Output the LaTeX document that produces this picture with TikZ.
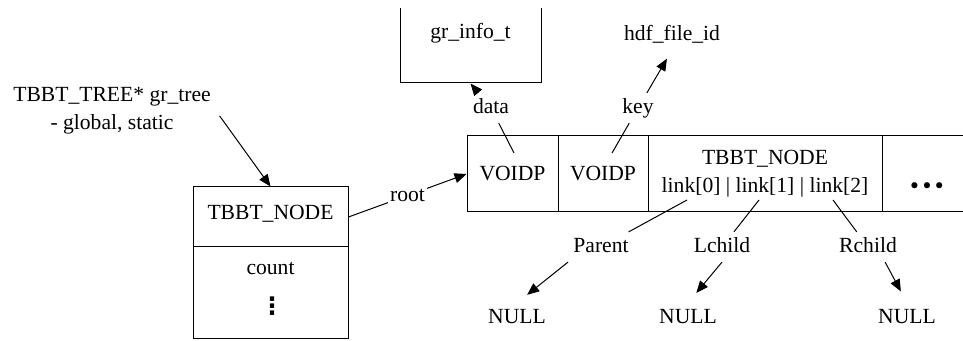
\documentclass[tikz,border=0pt]{standalone}
\usepackage{fontspec}
\setmainfont{Liberation Serif}
\newfontfamily\dejavu{DejaVu Sans}
\usetikzlibrary{arrows.meta,calc}

\begin{document}
\begin{tikzpicture}[x=0.5pt,y=-0.5pt,
  lab/.style={font=\fontsize{10.8}{14}\selectfont,inner sep=2.5pt},
  txt/.style={lab,text height=7.4pt,text depth=2.3pt},
  fld/.style={draw,line width=0.5pt,minimum height=38pt,inner sep=0pt,align=center,font=\fontsize{10.8}{14}\selectfont},
  box/.style={draw,line width=0.5pt,inner sep=0pt,font=\fontsize{10.8}{14}\selectfont},
  arr/.style={-{Triangle[length=6pt,width=5pt]},line width=0.5pt},
  conn/.style={line width=0.5pt}
]
  \useasboundingbox (0,0) rectangle (963,341);
  \clip (0,9) rectangle (963,341);

  \node[box,minimum width=70.5pt,minimum height=50pt] (ginfo) at (470.5,33) {gr\_info\_t};
  \node[txt] (hdf) at (672,35) {hdf\_file\_id};
  \node[lab,align=center] (tree) at (112,111) {TBBT\_TREE* gr\_tree\\- global, static};

  \node[box,minimum width=77.5pt,minimum height=30pt,text height=7.15pt,text depth=5pt] (ltop) at (270.5,217) {TBBT\_NODE};
  \node[box,minimum width=77.5pt,minimum height=46pt] (lbot) at (270.5,293) {};
  \node[txt] (count) at (270.5,269) {count};
  \node[font={\dejavu\bfseries\fontsize{12}{12}\selectfont},inner sep=0pt] (vdots) at (272,306.5) {⋮};

  \node[fld,minimum width=45.5pt] (voidA) at (512.5,174) {VOIDP};
  \node[fld,minimum width=45pt] (voidB) at (603,174) {VOIDP};
  \node[fld,minimum width=117pt] (tnode) at (765,174) {TBBT\_NODE\\link[0] | link[1] | link[2]};
  \node[fld,minimum width=45pt] (more) at (927,174) {};
  \node[font={\dejavu\fontsize{10.5}{12}\selectfont},inner sep=0pt] (dots) at (927,188) {•••};

  \node[txt] (data) at (491,108) {data};
  \node[txt] (key) at (638,108) {key};
  \node[txt] (parent) at (601,247) {Parent};
  \node[txt] (lchild) at (722,247) {Lchild};
  \node[txt] (rchild) at (868,247) {Rchild};
  \node[txt] (null0) at (517,318) {NULL};
  \node[txt] (null1) at (688,318) {NULL};
  \node[txt] (null2) at (907,318) {NULL};

  \coordinate (pA) at (514,153);
  \coordinate (pB) at (612,153);
  \coordinate (p0) at (687,200);
  \coordinate (p1) at (759,200);
  \coordinate (p2) at (833,200);

  \draw[arr,shorten <=3pt] (tree.east) -- (ltop.north);
  \draw[arr] (ltop.east) -- node[lab,fill=white,inner sep=1pt] {root} (voidA.west);

  \draw[conn] (pA) -- (data);
  \draw[arr] (data) -- (ginfo.south);
  \draw[conn] (pB) -- (key);
  \draw[arr,shorten >=5pt] (key) -- (hdf.south);

  \draw[conn] (p0) -- (parent);
  \draw[conn] (p1) -- (lchild);
  \draw[conn] (p2) -- (rchild);
  \draw[arr,shorten >=6.5pt] (parent.south west) -- (null0.north);
  \draw[arr,shorten >=6.5pt] (lchild.south) -- (null1.north);
  \draw[arr,shorten >=6.5pt] ($(rchild.south)!0.5!(rchild.south east)$) -- (null2.north);
\end{tikzpicture}
\end{document}
